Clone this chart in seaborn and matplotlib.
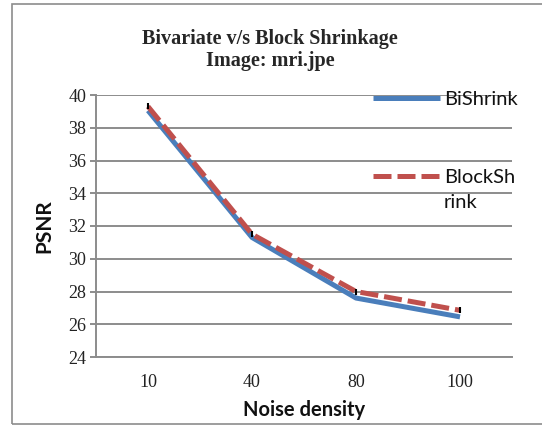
import numpy as np
import pandas as pd
import matplotlib
matplotlib.use("Agg")
import matplotlib.pyplot as plt
import seaborn as sns
from matplotlib.patches import Rectangle

# data
noise_density = ["10", "40", "80", "100"]
bishrink = [39.05, 31.3, 27.6, 26.45]
blockshrink = [39.3, 31.5, 28.0, 26.85]
series_names = ["BiShrink", "BlockShrink"]
y_ticks = [24, 26, 28, 30, 32, 34, 36, 38, 40]

df = pd.DataFrame({
    "Noise density": noise_density * 2,
    "PSNR": bishrink + blockshrink,
    "method": [series_names[0]] * 4 + [series_names[1]] * 4,
})

sns.set_theme(style="white")
grid_col = "#8c8c8c"

fig = plt.figure(figsize=(5.42, 4.28), dpi=100)
ax = fig.add_axes([96 / 542, 1 - 357 / 428, 416 / 542, 262 / 428])

sns.lineplot(data=df, x="Noise density", y="PSNR", hue="method", style="method",
             palette={"BiShrink": "#4a7ebb", "BlockShrink": "#c0504d"},
             dashes={"BiShrink": "", "BlockShrink": (3.6, 1.2)},
             linewidth=3.6, sort=False, legend=False, ax=ax, zorder=3)
for ln in ax.get_lines():
    ln.set_solid_capstyle("butt")
    ln.set_dash_capstyle("butt")

# little black markers Excel left at the points
ax.plot(range(len(noise_density)), blockshrink, ls="none", marker="|",
        color="black", markersize=5, mew=1.5, zorder=4)

ax.set_xlim(-0.5, 3.5)
ax.set_ylim(24, 40)
ax.set_yticks(y_ticks)
ax.grid(axis="y", color=grid_col, linewidth=1.4)
ax.set_axisbelow(True)
for s in ["top", "right"]:
    ax.spines[s].set_visible(False)
for s in ["left", "bottom"]:
    ax.spines[s].set_color(grid_col)
    ax.spines[s].set_linewidth(1.4)
ax.tick_params(axis="y", length=4, width=1.4, color=grid_col, left=True, pad=3)
ax.tick_params(axis="x", length=0, pad=12)
for lab in ax.get_xticklabels() + ax.get_yticklabels():
    lab.set_family("Liberation Serif")
    lab.set_fontsize(13)
    lab.set_color("#222222")

ax.set_xlabel("Noise density", fontsize=14.5, fontweight="bold", family="Lato",
              labelpad=7, color="#111111")
ax.set_ylabel("PSNR", fontsize=15, fontweight="bold", family="Lato",
              labelpad=10, color="#111111")

fig.text(270 / 542, 1 - 50 / 428, "Bivariate v/s Block Shrinkage\nImage: mri.jpe",
         ha="center", va="center", family="Liberation Serif", fontweight="bold",
         fontsize=14.5, linespacing=1.15)

# legend, placed to the right like the Excel chart; the long name wraps
handles = ax.get_lines()[:2]
leg = fig.legend(handles, ["BiShrink", "BlockSh"], loc="upper left",
                 bbox_to_anchor=(355 / 542, 1 - 73 / 428), frameon=False,
                 handlelength=3.3, handletextpad=0.25, labelspacing=3.0,
                 prop={"family": "Lato", "size": 14.5})
for t in leg.get_texts():
    t.set_color("#111111")
fig.text(444 / 542, 1 - 203 / 428, "rink", ha="left", va="center",
         family="Lato", fontsize=14.5, color="#111111")

fig.patches.append(Rectangle((12 / 542, 4 / 428), 600 / 542, 420 / 428,
                             transform=fig.transFigure, fill=False,
                             edgecolor="#8c8c8c", linewidth=1.2))

fig.savefig("out.png", dpi=100)
